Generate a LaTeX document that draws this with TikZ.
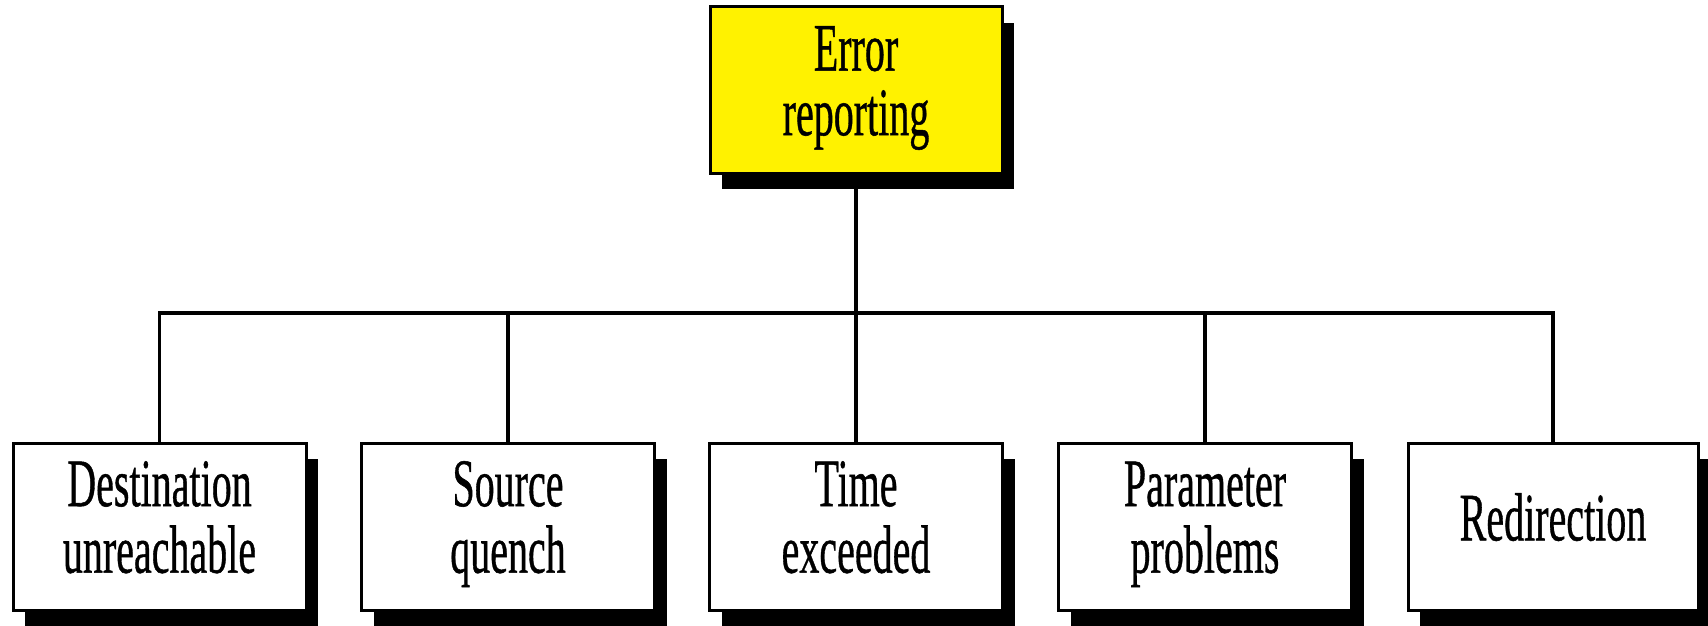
\documentclass[tikz,border=0pt]{standalone}
\usepackage{fontspec}
\setmainfont{Liberation Serif}
\newfontfamily\chartfont{Liberation Serif}[FakeBold=0.8]
\usepackage{graphicx}
\usetikzlibrary{shadows}

% tall, narrow lettering: normal width, stretched vertically
\newcommand\talltext[1]{\scalebox{1}[1.7]{\begin{tabular}{@{}c@{}}#1\end{tabular}}}

\tikzset{
  chartbox/.style={
    draw=black, line width=3pt, fill=white,
    minimum width=293pt, minimum height=167pt, inner sep=0pt,
    font=\chartfont\fontsize{40}{38}\selectfont,
    drop shadow={shadow xshift=12pt, shadow yshift=-16pt, fill=black, opacity=1}
  },
  rootbox/.style={chartbox, fill=yellow},
  link/.style={line width=3.5pt, black}
}

\begin{document}
\begin{tikzpicture}[x=1pt, y=-1pt]
  \useasboundingbox (0,0) rectangle (1708,626);

  % root of the tree
  \node[rootbox, minimum width=292pt, minimum height=166pt] (root) at (856,90)
    {\talltext{Error\\reporting}};

  % message categories
  \node[chartbox] (dest)  at (159.5,526.5) {\talltext{Destination\\unreachable}};
  \node[chartbox] (quench) at (508,526.5)  {\talltext{Source\\quench}};
  \node[chartbox] (time)  at (856,526.5)   {\talltext{Time\\exceeded}};
  \node[chartbox] (param) at (1205,526.5)  {\talltext{Parameter\\problems}};
  \node[chartbox, minimum width=290pt] (redir) at (1553,526.5) {\talltext{Redirection}};

  % horizontal bus joining the branches
  \coordinate (bus) at (0,313);

  \draw[link] (root.south) -- (root.south |- bus);
  \draw[link] (dest.north) -- (dest.north |- bus) -- (redir.north |- bus) -- (redir.north);
  \draw[link] (quench.north) -- (quench.north |- bus);
  \draw[link] (time.north) -- (time.north |- bus);
  \draw[link] (param.north) -- (param.north |- bus);
\end{tikzpicture}
\end{document}
